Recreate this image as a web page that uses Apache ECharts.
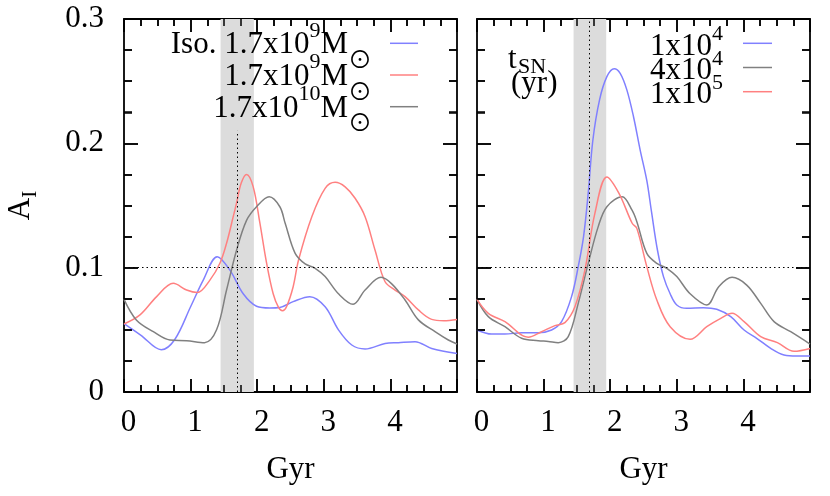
<!DOCTYPE html>
<html>
<head>
<meta charset="utf-8">
<script src="https://cdn.jsdelivr.net/npm/echarts@6/dist/echarts.min.js"></script>
<style>html,body{margin:0;padding:0;background:#fff}#c{width:830px;height:496px}</style>
</head>
<body>
<div id="c"></div>
<script>
// ---- data ----
const xTickLabels = ['0', '1', '2', '3', '4'];
const yTickLabels = ['0', '0.1', '0.2', '0.3'];
const xMajorTicks = [0, 1, 2, 3, 4, 5];
const xMinorTicks = [0.25, 0.5, 0.75, 1.25, 1.5, 1.75, 2.25, 2.5, 2.75, 3.25, 3.5, 3.75, 4.25, 4.5, 4.75];
const yMajorTicks = [0, 0.1, 0.2, 0.3];
const yMinorTicks = [0.025, 0.05, 0.075, 0.125, 0.15, 0.175, 0.225, 0.25, 0.275];

const leftNames = ['Iso. 1.7x10^9 Msun', '1.7x10^9 Msun', '1.7x10^10 Msun'];
const leftRich = ['{m|Iso. 1.7x10}{p|9}{m|M}{o|⊙}', '{m|1.7x10}{p|9}{m|M}{o|⊙}', '{m|1.7x10}{p|10}{m|M}{o|⊙}'];
const rightNames = ['1x10^4', '4x10^4', '1x10^5'];
const rightRich = ['{m|1x10}{p|4}', '{m|4x10}{p|4}', '{m|1x10}{p|5}'];

const leftIso = [[0,0.055],[0.25,0.0458],[0.56,0.034],[0.76,0.042],[1.0,0.0686],[1.19,0.090],[1.40,0.1088],[1.59,0.098],[1.79,0.079],[1.99,0.069],[2.19,0.0676],[2.34,0.068],[2.54,0.0727],[2.79,0.0767],[3.02,0.0686],[3.22,0.050],[3.42,0.0378],[3.62,0.0346],[3.92,0.039],[4.12,0.0397],[4.37,0.0405],[4.62,0.035],[5.0,0.031]];
const left9 = [[0,0.0547],[0.24,0.062],[0.49,0.0767],[0.74,0.0874],[0.94,0.082],[1.10,0.080],[1.29,0.090],[1.44,0.1035],[1.54,0.1196],[1.64,0.141],[1.69,0.152],[1.76,0.168],[1.84,0.175],[1.94,0.165],[2.04,0.136],[2.14,0.104],[2.24,0.079],[2.32,0.068],[2.38,0.0654],[2.44,0.0686],[2.54,0.0847],[2.62,0.106],[2.82,0.141],[3.02,0.1638],[3.17,0.1686],[3.32,0.165],[3.47,0.1558],[3.62,0.141],[3.77,0.114],[3.92,0.0887],[4.07,0.082],[4.22,0.0767],[4.42,0.066],[4.62,0.0584],[4.80,0.0574],[5.0,0.0584]];
const left10 = [[0,0.0745],[0.185,0.058],[0.44,0.0485],[0.69,0.0418],[0.94,0.0413],[1.21,0.0397],[1.39,0.050],[1.54,0.082],[1.69,0.114],[1.84,0.138],[1.99,0.149],[2.18,0.157],[2.34,0.149],[2.42,0.1357],[2.57,0.1115],[2.72,0.103],[2.87,0.0995],[3.02,0.0928],[3.22,0.079],[3.44,0.0705],[3.62,0.082],[3.86,0.0922],[4.02,0.087],[4.22,0.074],[4.42,0.058],[4.67,0.0485],[4.87,0.0418],[5.0,0.0386]];

const right1e4 = [[0,0.0499],[0.22,0.0466],[0.42,0.0466],[0.67,0.0477],[0.92,0.0477],[1.12,0.0499],[1.27,0.0566],[1.42,0.0767],[1.52,0.1008],[1.60,0.125],[1.67,0.160],[1.74,0.2027],[1.84,0.2349],[1.95,0.2536],[2.06,0.260],[2.15,0.2563],[2.25,0.243],[2.35,0.2214],[2.45,0.1946],[2.55,0.170],[2.62,0.145],[2.71,0.114],[2.80,0.0928],[2.90,0.079],[3.00,0.070],[3.15,0.0673],[3.40,0.0678],[3.60,0.0665],[3.81,0.0606],[4.01,0.0499],[4.20,0.0432],[4.41,0.0351],[4.61,0.0298],[4.80,0.029],[5.0,0.029]];
const right4e4 = [[0,0.0745],[0.17,0.0606],[0.42,0.0525],[0.67,0.0432],[0.92,0.0413],[1.07,0.0407],[1.22,0.0397],[1.37,0.0445],[1.52,0.0713],[1.67,0.1035],[1.82,0.133],[1.95,0.149],[2.18,0.157],[2.33,0.146],[2.40,0.137],[2.55,0.1115],[2.70,0.1035],[2.85,0.0995],[3.00,0.0928],[3.20,0.079],[3.45,0.070],[3.63,0.0847],[3.83,0.0922],[4.05,0.086],[4.26,0.0713],[4.46,0.0566],[4.71,0.0485],[5.0,0.0386]];
const right1e5 = [[0,0.0745],[0.17,0.0633],[0.42,0.0566],[0.77,0.044],[0.97,0.0485],[1.17,0.0534],[1.32,0.0558],[1.47,0.0686],[1.62,0.098],[1.77,0.1437],[1.95,0.173],[2.13,0.160],[2.33,0.1357],[2.40,0.1316],[2.55,0.1008],[2.70,0.074],[2.90,0.0525],[3.20,0.0424],[3.45,0.0525],[3.66,0.0592],[3.83,0.0633],[4.01,0.0566],[4.26,0.0445],[4.51,0.0397],[4.76,0.0327],[5.0,0.035]];

const bandLeft = [1.45, 1.95];
const bandRight = [1.45, 1.94];
const vLineLeft = 1.70, vLineLeftTop = 0.21;
const vLineRight = 1.69;
const hLine = 0.1;

// ---- styles ----
const FONT = 'Liberation Serif';
const FS = 31;
const BLUE = '#8080ff', RED = '#ff8080', GRAY = '#808080';
const dotted = { color: '#000', width: 1, type: [1.5, 3] };
const X_MIN = 0, X_MAX = 5, Y_MIN = 0, Y_MAX = 0.3;
const GRID_W = 333, GRID_H = 373;

function xAx(grid, pos, showLabels) {
  return {
    type: 'value', gridIndex: grid, position: pos, min: X_MIN, max: X_MAX, interval: 1,
    axisLine: { show: true, onZero: false, lineStyle: { color: '#000', width: 1.8 } },
    axisTick: { show: true, inside: true, length: 13, lineStyle: { color: '#000', width: 1.5 } },
    minorTick: { show: true, splitNumber: 4, length: 7, lineStyle: { color: '#000', width: 1.5 } },
    splitLine: { show: false },
    axisLabel: showLabels ? {
      show: true, margin: 15, fontFamily: FONT, fontSize: FS, color: '#000', padding: [0, 0, 0, 9],
      formatter: v => (Math.abs(v - Math.round(v)) < 1e-6 && xTickLabels[Math.round(v)] !== undefined) ? xTickLabels[Math.round(v)] : ''
    } : { show: false },
    name: showLabels ? 'Gyr' : '', nameLocation: 'middle', nameGap: 62,
    nameTextStyle: { fontFamily: FONT, fontSize: FS, color: '#000' }
  };
}
function yAx(grid, pos, showLabels, withName) {
  return {
    type: 'value', gridIndex: grid, position: pos, min: Y_MIN, max: Y_MAX, interval: 0.1,
    axisLine: { show: true, onZero: false, lineStyle: { color: '#000', width: 1.8 } },
    axisTick: { show: true, inside: true, length: 14, lineStyle: { color: '#000', width: 1.5 } },
    minorTick: { show: true, splitNumber: 4, length: 8, lineStyle: { color: '#000', width: 1.5 } },
    splitLine: { show: false },
    axisLabel: showLabels ? {
      show: true, margin: 20, fontFamily: FONT, fontSize: FS, color: '#000',
      formatter: v => yTickLabels[Math.round(v * 10)] || ''
    } : { show: false },
    name: withName ? '{a|A}{s|I}' : '', nameLocation: 'middle', nameGap: 83, nameRotate: 90,
    nameTextStyle: { fontFamily: FONT, color: '#000',
      rich: { a: { fontFamily: FONT, fontSize: FS, lineHeight: 40, color: '#000' },
              s: { fontFamily: FONT, fontSize: 21, verticalAlign: 'bottom', color: '#000' } } }
  };
}
function line(name, data, color, xi, yi, extra) {
  return Object.assign({
    type: 'line', name, data, xAxisIndex: xi, yAxisIndex: yi, smooth: 0.35,
    showSymbol: false, color, lineStyle: { color, width: 1.5 }
  }, extra || {});
}

// inward ticks on all four sides of a panel, as solid mark-line segments anchored at the tick values
function tickSegments() {
  const s = { type: 'solid', width: 1.5, color: '#000' };
  const pxY = (Y_MAX - Y_MIN) / GRID_H, pxX = (X_MAX - X_MIN) / GRID_W;
  const segs = [];
  const addX = (v, len) => {
    segs.push([{ coord: [v, Y_MIN], lineStyle: s }, { coord: [v, Y_MIN + len * pxY] }]);
    segs.push([{ coord: [v, Y_MAX], lineStyle: s }, { coord: [v, Y_MAX - len * pxY] }]);
  };
  const addY = (v, len) => {
    segs.push([{ coord: [X_MIN, v], lineStyle: s }, { coord: [X_MIN + len * pxX, v] }]);
    segs.push([{ coord: [X_MAX, v], lineStyle: s }, { coord: [X_MAX - len * pxX, v] }]);
  };
  xMajorTicks.forEach(v => addX(v, 13));
  xMinorTicks.forEach(v => addX(v, 7));
  yMajorTicks.forEach(v => addY(v, 14));
  yMinorTicks.forEach(v => addY(v, 8));
  return segs;
}

const chart = echarts.init(document.getElementById('c'), null, { renderer: 'canvas' });
chart.setOption({
  animation: false,
  backgroundColor: '#fff',
  grid: [
    { left: 124, top: 19, width: GRID_W, height: GRID_H },
    { left: 477, top: 19, width: GRID_W, height: GRID_H }
  ],
  xAxis: [xAx(0, 'bottom', true), xAx(0, 'top', false), xAx(1, 'bottom', true), xAx(1, 'top', false)],
  yAxis: [yAx(0, 'left', true, true), yAx(0, 'right', false, false), yAx(1, 'left', false, false), yAx(1, 'right', false, false)],
  legend: [
    {
      data: leftNames, orient: 'vertical', align: 'right', right: 412, top: 19.8, padding: 0,
      itemGap: -19.3, itemWidth: 28, itemHeight: 5.5, icon: 'path://M0,0L28,0L28,1.5L0,1.5Z M0,5.5L0,5.5', selectedMode: false,
      formatter: n => leftRich[leftNames.indexOf(n)],
      textStyle: { fontFamily: FONT, fontSize: FS, color: '#000', padding: [0, 13, 0, 0],
        rich: { m: { fontFamily: FONT, fontSize: FS, lineHeight: 51, color: '#000' },
                p: { fontFamily: FONT, fontSize: 22, verticalAlign: 'top', color: '#000' },
                o: { fontFamily: 'Noto Sans CJK SC', fontSize: 24, verticalAlign: 'bottom', color: '#000' } } }
    },
    {
      data: rightNames, orient: 'vertical', align: 'right', right: 58, top: 23.7, padding: 0,
      itemGap: -14.3, itemWidth: 29, itemHeight: 8.3, icon: 'path://M0,0L29,0L29,1.5L0,1.5Z M0,8.3L0,8.3', selectedMode: false,
      formatter: n => rightRich[rightNames.indexOf(n)],
      textStyle: { fontFamily: FONT, fontSize: FS, color: '#000', padding: [0, 15, 0, 0],
        rich: { m: { fontFamily: FONT, fontSize: FS, lineHeight: 46, color: '#000' },
                p: { fontFamily: FONT, fontSize: 22, verticalAlign: 'top', color: '#000' } } }
    }
  ],
  graphic: [
    { type: 'text', left: 508, top: 44, style: { text: 't', fontFamily: FONT, fontSize: FS, fill: '#000' } },
    { type: 'text', left: 518, top: 56, style: { text: 'SN', fontFamily: FONT, fontSize: 22, fill: '#000' } },
    { type: 'text', left: 511, top: 68, style: { text: '(yr)', fontFamily: FONT, fontSize: FS, fill: '#000' } }
  ],
  series: [
    line(leftNames[0], leftIso, BLUE, 0, 0, {
      markArea: { silent: true, itemStyle: { color: '#dcdcdc' }, data: [[{ xAxis: bandLeft[0] }, { xAxis: bandLeft[1] }]] },
      markLine: { silent: true, symbol: 'none', label: { show: false }, lineStyle: dotted,
        data: [{ yAxis: hLine }, [{ coord: [vLineLeft, 0] }, { coord: [vLineLeft, vLineLeftTop] }]].concat(tickSegments()) }
    }),
    line(leftNames[1], left9, RED, 0, 0),
    line(leftNames[2], left10, GRAY, 0, 0),
    line(rightNames[0], right1e4, BLUE, 2, 2, {
      markArea: { silent: true, itemStyle: { color: '#dcdcdc' }, data: [[{ xAxis: bandRight[0] }, { xAxis: bandRight[1] }]] },
      markLine: { silent: true, symbol: 'none', label: { show: false }, lineStyle: dotted,
        data: [{ yAxis: hLine }, { xAxis: vLineRight }].concat(tickSegments()) }
    }),
    line(rightNames[1], right4e4, GRAY, 2, 2),
    line(rightNames[2], right1e5, RED, 2, 2)
  ]
});
</script>
</body>
</html>
